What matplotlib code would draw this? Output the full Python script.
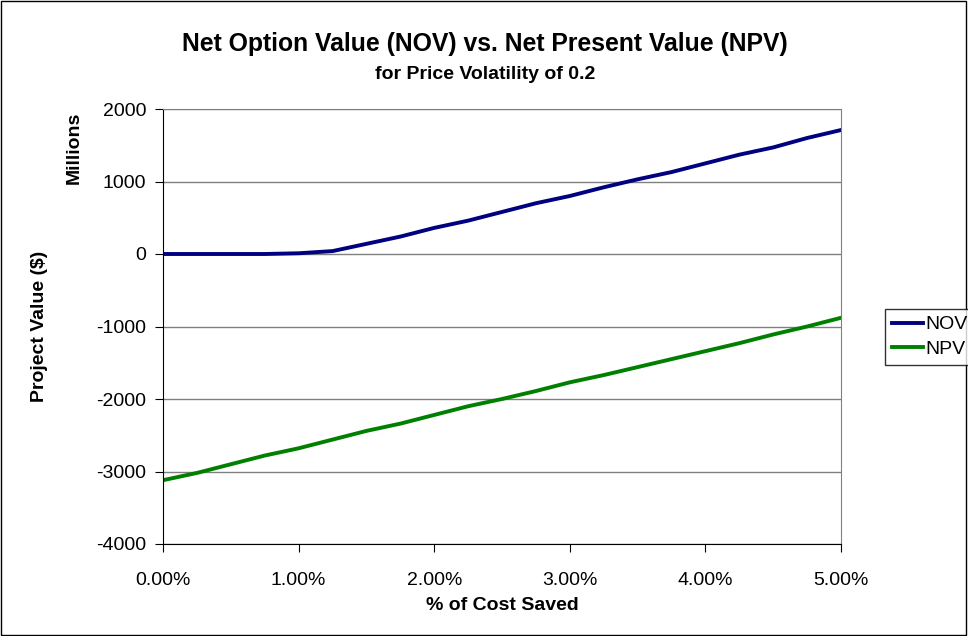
import matplotlib.pyplot as plt
from matplotlib.patches import Rectangle
from matplotlib.ticker import FuncFormatter

plt.rcParams['font.family'] = ['Liberation Sans', 'DejaVu Sans']
plt.rcParams['axes.unicode_minus'] = False

cost_saved = [0.0, 0.25, 0.5, 0.75, 1.0, 1.25, 1.5, 1.75, 2.0, 2.25, 2.5,
              2.75, 3.0, 3.25, 3.5, 3.75, 4.0, 4.25, 4.5, 4.75, 5.0]
nov = [0, 0, 0, 0, 10, 40, 140, 240, 360, 460, 580,
       700, 800, 920, 1030, 1130, 1250, 1370, 1470, 1600, 1710]
npv = [-3120, -3020, -2900, -2780, -2680, -2560, -2440, -2340, -2220, -2100, -2000,
       -1890, -1770, -1670, -1560, -1450, -1340, -1230, -1110, -1000, -880]

fig = plt.figure(figsize=(9.68, 6.36), dpi=100)
ax = fig.add_axes([163 / 968, 1 - 544 / 636, (841 - 163) / 968, (544 - 109) / 636])

ax.plot(cost_saved, nov, color="#000080", linewidth=2.8, label="NOV")
ax.plot(cost_saved, npv, color="#008000", linewidth=2.8, label="NPV")

ax.set_xlim(0, 5)
ax.set_ylim(-4000, 2000)
ax.set_xticks([0, 1, 2, 3, 4, 5])
ax.set_yticks(range(-4000, 2001, 1000))
ax.xaxis.set_major_formatter(FuncFormatter(lambda v, p: f"{v:.2f}%"))
ax.grid(axis="y", color="#808080", linewidth=1)
ax.set_axisbelow(True)
for s in ["top", "right"]:
    ax.spines[s].set_color("#808080")
for s in ["left", "bottom"]:
    ax.spines[s].set_color("black")
ax.tick_params(direction="out", length=6, labelsize=14)
ax.tick_params(axis="x", pad=14)
ax.tick_params(axis="y", pad=6)

fig.text(502 / 968, 1 - 605 / 636, "% of Cost Saved", fontsize=14,
         fontweight="bold", ha="center", va="center")
fig.text(40 / 968, 1 - 326 / 636, "Project Value ($)", rotation=90, fontsize=14,
         fontweight="bold", ha="center", va="center")
fig.text(74 / 968, 1 - 148 / 636, "Millions", rotation=90, fontsize=14,
         fontweight="bold", ha="center", va="center")

fig.text(485 / 968, 1 - 51 / 636, "Net Option Value (NOV) vs. Net Present Value (NPV)",
         fontsize=17.8, fontweight="bold", ha="center", va="baseline")
fig.text(485 / 968, 1 - 79 / 636, "for Price Volatility of 0.2",
         fontsize=14, fontweight="bold", ha="center", va="baseline")

fig.legend(loc="upper left", bbox_to_anchor=(885 / 968, 1 - 309 / 636),
           frameon=True, fancybox=False, edgecolor="black", fontsize=14,
           handlelength=1.6, handletextpad=0.15, borderpad=0.35, labelspacing=0.35,
           borderaxespad=0)

fig.patches.append(Rectangle((0.001, 0.001), 0.997, 0.997, transform=fig.transFigure,
                             fill=False, edgecolor="black", linewidth=1))

fig.savefig("out.png", dpi=100)
